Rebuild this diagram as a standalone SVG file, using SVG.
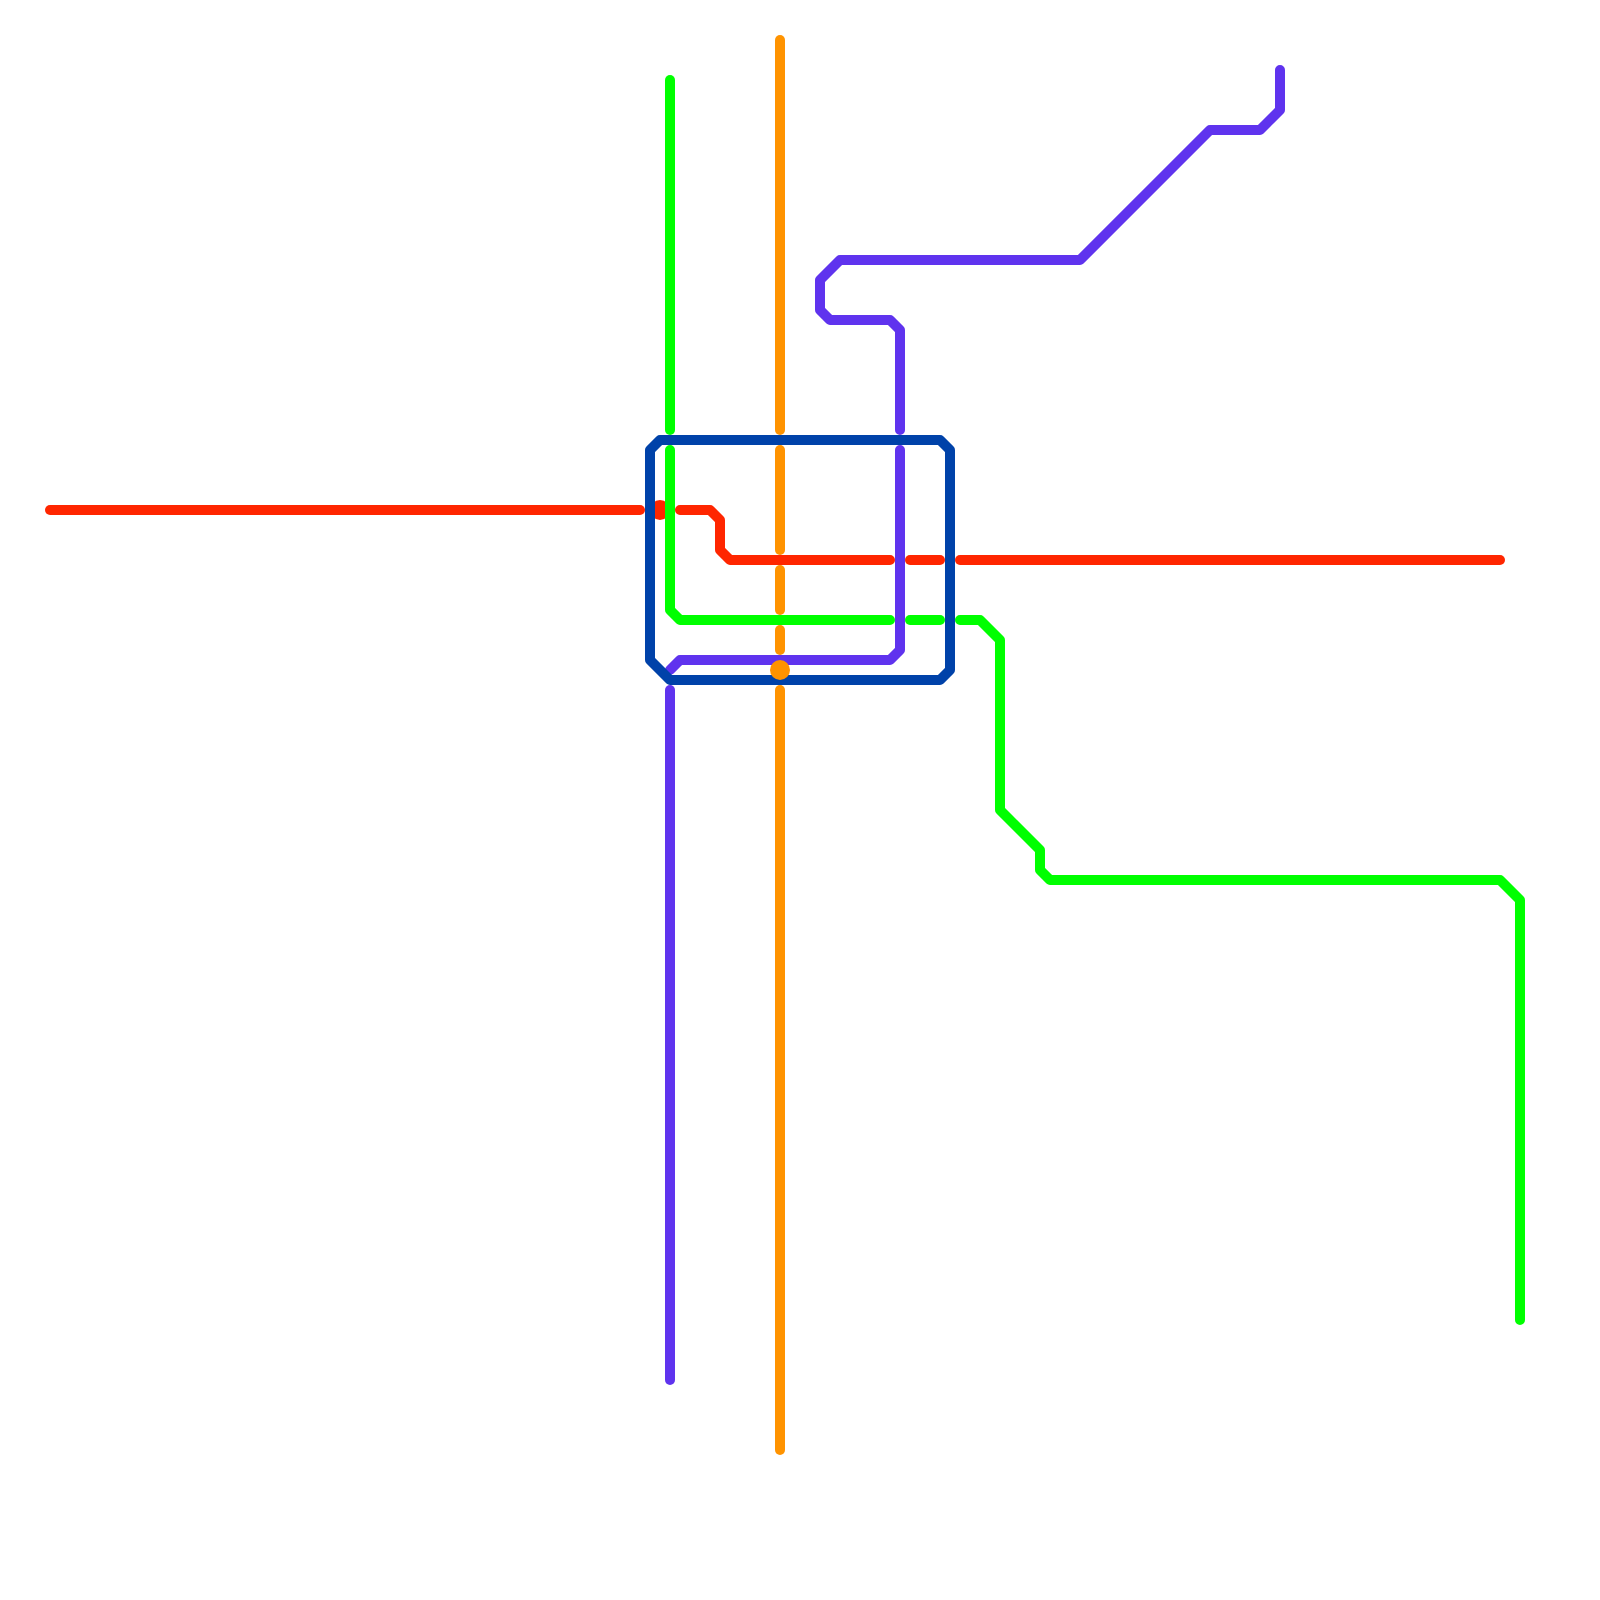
<svg xmlns="http://www.w3.org/2000/svg" width="1600" height="1600" viewBox="0 0 1600 1600">
<style>
.l{fill:none;stroke-width:10;stroke-linecap:round;stroke-linejoin:round}
.r{stroke:#ff2600}.g{stroke:#00ff00}.o{stroke:#ff9300}.p{stroke:#5f33ee}.b{stroke:#0042a9}
</style>
<rect width="1600" height="1600" fill="#ffffff"/>
<g id="connectors">
<g id="line-red">
<path class="l r" d="M50 510H640"/>
<path class="l r" d="M680 510H710L720 520V550L730 560H890"/>
<path class="l r" d="M910 560H940"/>
<path class="l r" d="M960 560H1500"/>
</g>
<g id="station-red"><circle cx="660" cy="510" r="10" fill="#ff2600"/></g>
<g id="line-green">
<path class="l g" d="M670 80V430"/>
<path class="l g" d="M670 450V610L680 620H890"/>
<path class="l g" d="M910 620H940"/>
<path class="l g" d="M960 620H980L1000 640V810L1040 850V870L1050 880H1500L1520 900V1320"/>
</g>
<g id="line-orange">
<path class="l o" d="M780 40V430"/>
<path class="l o" d="M780 450V550"/>
<path class="l o" d="M780 570V610"/>
<path class="l o" d="M780 630V650"/>
<path class="l o" d="M780 690V1450"/>
</g>
<g id="line-purple">
<path class="l p" d="M1280 70V110L1260 130H1210L1080 260H840L820 280V310L830 320H890L900 330V430"/>
<path class="l p" d="M900 450V650L890 660H680L670 670"/>
<path class="l p" d="M670 690V1380"/>
</g>
<g id="line-blue">
<path class="l b" d="M660 440H940L950 450V670L940 680H670L650 660V450Z"/>
</g>
</g>
<g id="station-orange"><circle cx="780" cy="670" r="10" fill="#ff9300"/></g>
</svg>
